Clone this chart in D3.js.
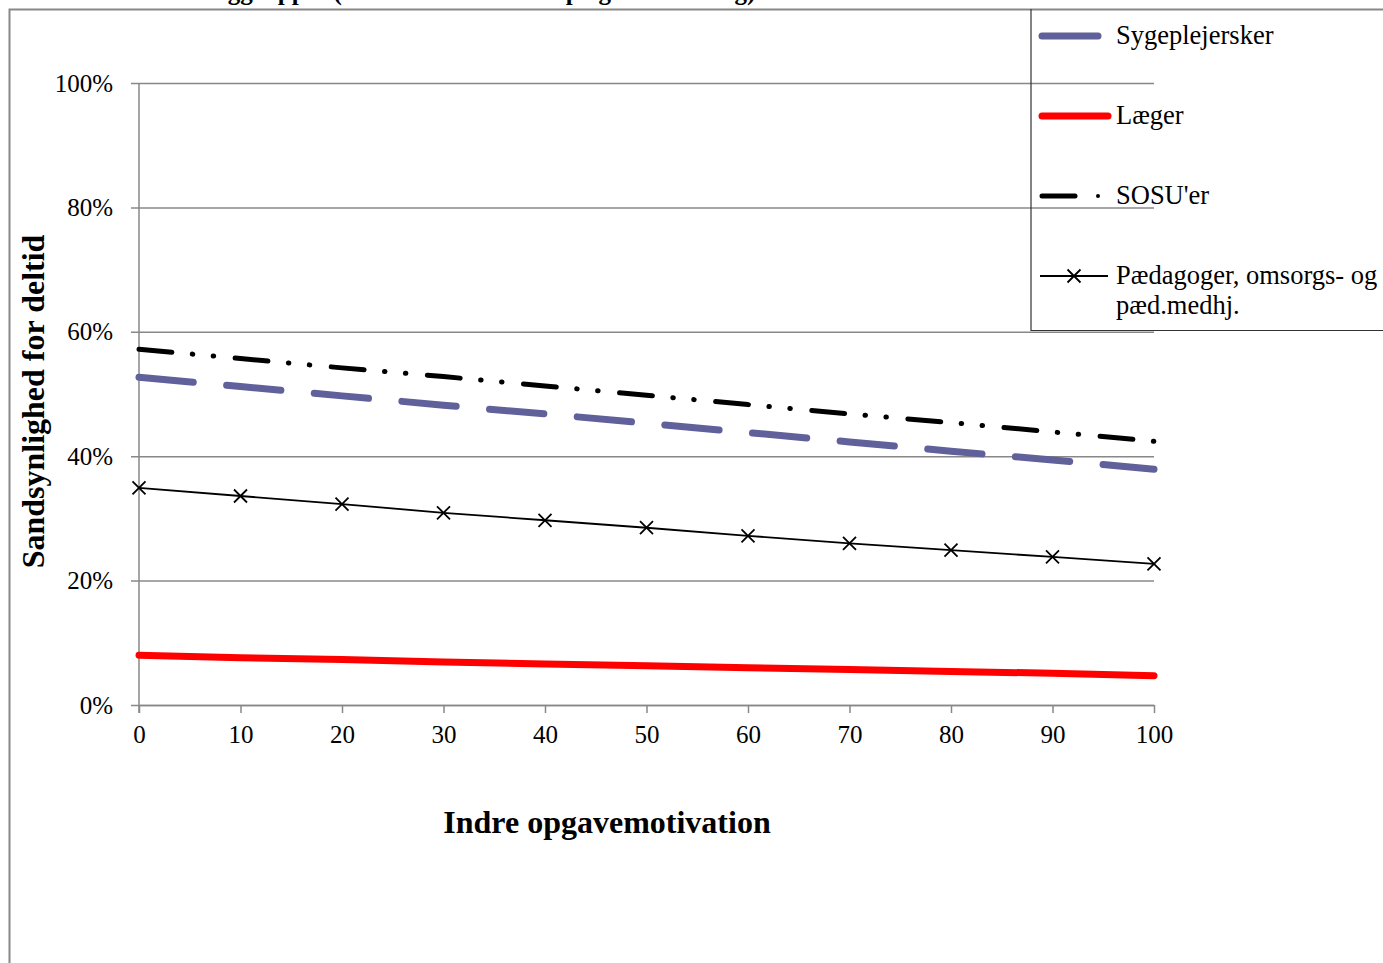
<!DOCTYPE html>
<html>
<head>
<meta charset="UTF-8">
<script src="https://cdn.jsdelivr.net/npm/d3@7"></script>
<style>
  body { margin: 0; background: #fff; }
  text { font-family: "Liberation Serif", "Times New Roman", serif; fill: #000; }
</style>
</head>
<body>
<svg id="chart" width="1383" height="963"></svg>
<script>
// data
const motivation = [0, 10, 20, 30, 40, 50, 60, 70, 80, 90, 100];
const sygeplejersker = [52.7, 51.2, 49.7, 48.2, 46.8, 45.3, 43.8, 42.3, 40.8, 39.4, 37.9];
const laeger = [8.0, 7.6, 7.3, 6.9, 6.6, 6.3, 6.0, 5.7, 5.4, 5.1, 4.7];
const sosu = [57.2, 55.7, 54.2, 52.8, 51.3, 49.8, 48.3, 46.8, 45.4, 43.9, 42.4];
const paedagoger = [34.9, 33.6, 32.3, 30.9, 29.7, 28.5, 27.2, 26.0, 24.9, 23.8, 22.7];
const yTicks = [0, 20, 40, 60, 80, 100];
const xTicks = [0, 10, 20, 30, 40, 50, 60, 70, 80, 90, 100];

const series = [
  { name: "Sygeplejersker", values: sygeplejersker, color: "#60609a", width: 7, dash: "54.5,33.5", cap: "round" },
  { name: "Læger", values: laeger, color: "#ff0000", width: 7, dash: null, cap: "round" },
  { name: "SOSU'er", values: sosu, color: "#000", width: 5, dash: "33,20.5,0.5,20.5,0.5,21.5", cap: "round" },
  { name: "Pædagoger, omsorgs- og|pæd.medhj.", values: paedagoger, color: "#000", width: 1.8, dash: null, cap: "butt", marker: true }
];

const svg = d3.select("#chart");
const grey = "#888";

// frame around chart area (runs off the page)
svg.append("rect")
  .attr("x", 9.5).attr("y", 9.5)
  .attr("width", 1500).attr("height", 1000)
  .attr("fill", "none").attr("stroke", grey).attr("stroke-width", 2);

// title, clipped by the top edge like in the original
svg.append("text")
  .attr("x", 200).attr("y", 0)
  .attr("font-size", 25).attr("font-weight", "bold")
  .text("Faggrupper (andre variable holdt på gennemsnitlig)");

const pLeft = 139, pRight = 1154, pTop = 83, pBottom = 705;
const x = d3.scaleLinear().domain([0, 100]).range([pLeft, pRight]);
const y = d3.scaleLinear().domain([0, 100]).range([pBottom, pTop]);

// gridlines + y labels
const yAxis = svg.append("g")
  .attr("transform", `translate(${pRight},0)`)
  .call(d3.axisLeft(y).tickValues(yTicks).tickSize(pRight - pLeft + 8).tickPadding(18)
    .tickFormat(d => d + "%"));
yAxis.select(".domain").remove();
yAxis.selectAll("line").attr("stroke", grey).attr("stroke-width", 1.5);
yAxis.selectAll("text").attr("font-size", 25).style("font-family", "Liberation Serif");

// x axis
const xAxis = svg.append("g")
  .attr("transform", `translate(0,${pBottom})`)
  .call(d3.axisBottom(x).tickValues(xTicks).tickSize(8).tickSizeOuter(0).tickPadding(12));
xAxis.select(".domain").attr("stroke", grey).attr("stroke-width", 1.5);
xAxis.selectAll("line").attr("stroke", grey).attr("stroke-width", 1.5);
xAxis.selectAll("text").attr("font-size", 25).style("font-family", "Liberation Serif");

// vertical axis line
svg.append("line")
  .attr("x1", pLeft).attr("x2", pLeft).attr("y1", pTop).attr("y2", pBottom + 8)
  .attr("stroke", grey).attr("stroke-width", 1.5);

// axis titles
svg.append("text")
  .attr("transform", `translate(44,${(235 + 568) / 2}) rotate(-90)`)
  .attr("text-anchor", "middle")
  .attr("font-size", 32).attr("font-weight", "bold")
  .text("Sandsynlighed for deltid");

svg.append("text")
  .attr("x", 607).attr("y", 833)
  .attr("text-anchor", "middle")
  .attr("font-size", 32).attr("font-weight", "bold")
  .text("Indre opgavemotivation");

// lines
const line = d3.line().x((d, i) => x(motivation[i])).y(d => y(d));
series.forEach(s => {
  svg.append("path")
    .datum(s.values)
    .attr("d", line)
    .attr("fill", "none")
    .attr("stroke", s.color)
    .attr("stroke-width", s.width)
    .attr("stroke-linecap", s.cap)
    .attr("stroke-dasharray", s.dash);
  if (s.marker) {
    const r = 6.5;
    svg.append("g").selectAll("path")
      .data(s.values)
      .join("path")
      .attr("d", (d, i) => {
        const cx = x(motivation[i]), cy = y(d);
        return `M${cx - r},${cy - r}L${cx + r},${cy + r}M${cx - r},${cy + r}L${cx + r},${cy - r}`;
      })
      .attr("stroke", s.color).attr("stroke-width", 1.8);
  }
});

// legend
const lg = svg.append("g");
lg.append("path")
  .attr("d", "M1031,9V330.5H1400")
  .attr("fill", "none").attr("stroke", "#333").attr("stroke-width", 1.2);

const legendY = [36, 116, 196, 276];
series.forEach((s, i) => {
  const ly = legendY[i];
  if (s.name === "Sygeplejersker") {
    lg.append("line").attr("x1", 1042).attr("x2", 1098).attr("y1", ly).attr("y2", ly)
      .attr("stroke", s.color).attr("stroke-width", s.width).attr("stroke-linecap", "round");
  } else if (s.name === "Læger") {
    lg.append("line").attr("x1", 1042).attr("x2", 1108).attr("y1", ly).attr("y2", ly)
      .attr("stroke", s.color).attr("stroke-width", s.width).attr("stroke-linecap", "round");
  } else if (s.name === "SOSU'er") {
    lg.append("line").attr("x1", 1042).attr("x2", 1075).attr("y1", ly).attr("y2", ly)
      .attr("stroke", s.color).attr("stroke-width", s.width).attr("stroke-linecap", "round");
    lg.append("circle").attr("cx", 1098).attr("cy", ly).attr("r", 2);
  } else {
    lg.append("line").attr("x1", 1040).attr("x2", 1108).attr("y1", ly).attr("y2", ly)
      .attr("stroke", s.color).attr("stroke-width", s.width);
    const r = 6.5, cx = 1074;
    lg.append("path")
      .attr("d", `M${cx - r},${ly - r}L${cx + r},${ly + r}M${cx - r},${ly + r}L${cx + r},${ly - r}`)
      .attr("stroke", s.color).attr("stroke-width", 1.8);
  }
  const t = lg.append("text").attr("x", 1116).attr("y", ly + 8).attr("font-size", 26.5);
  s.name.split("|").forEach((part, k) => {
    t.append("tspan").attr("x", 1116).attr("dy", k === 0 ? 0 : 30).text(part);
  });
});
</script>
</body>
</html>
